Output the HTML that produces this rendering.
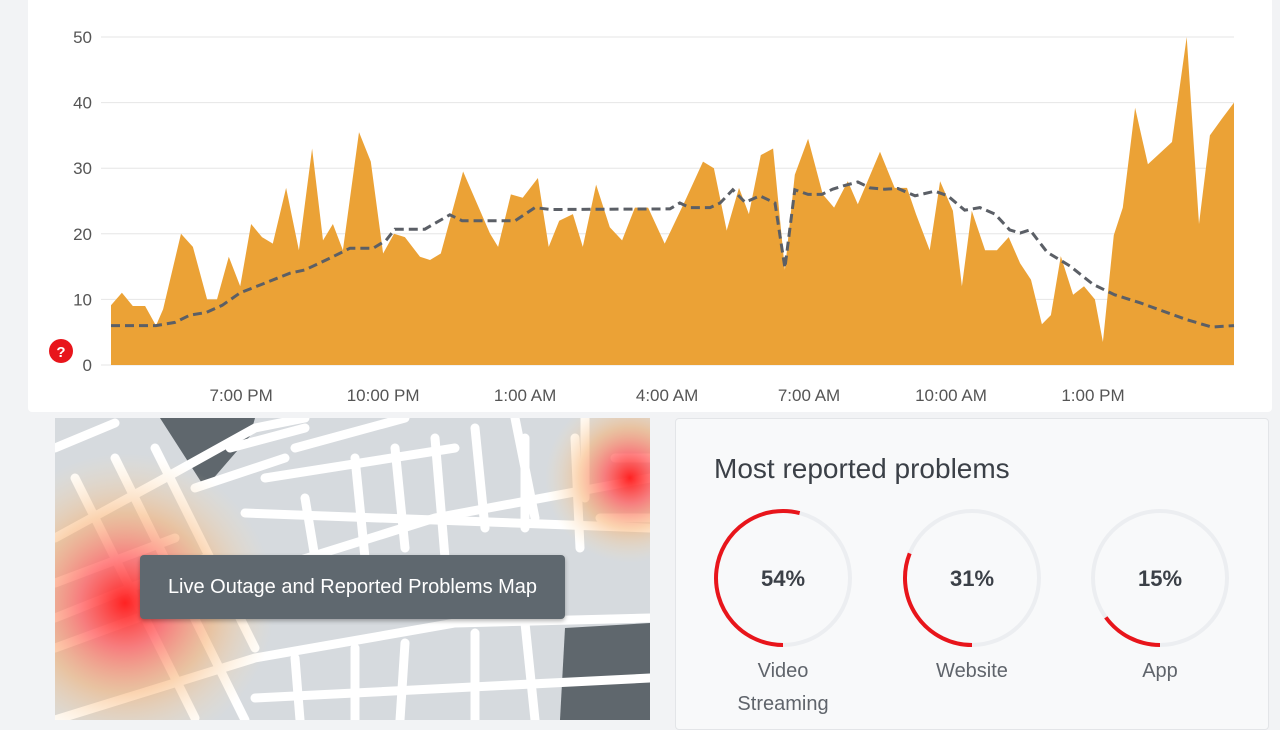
<!DOCTYPE html>
<html><head><meta charset="utf-8"><style>
body{margin:0;width:1280px;height:720px;overflow:hidden;background:#f2f3f5;font-family:"Liberation Sans",sans-serif;position:relative}
#chartcard{position:absolute;left:28px;top:-4px;width:1244px;height:416px;background:#fff;border-radius:4px}
#mapcard{position:absolute;left:55px;top:418px;width:595px;height:302px;overflow:hidden;background:#d6dade}
#probcard{position:absolute;left:675px;top:418px;width:592px;height:310px;background:#f8f9fa;border:1px solid #e3e5e8;border-radius:4px}
</style></head><body>
<div id="chartcard"></div>
<svg id="chart" style="position:absolute;left:0;top:0" width="1280" height="415"></svg>

<div id="mapcard">
<svg width="595" height="302">
<defs>
<radialGradient id="h1"><stop offset="0" stop-color="#f22" stop-opacity="1"/><stop offset="0.3" stop-color="#f66" stop-opacity=".8"/><stop offset="0.6" stop-color="#f7b070" stop-opacity=".55"/><stop offset="1" stop-color="#fbe0b0" stop-opacity="0"/></radialGradient>
</defs>
<rect width="595" height="302" fill="#d6dade"/>
<polygon points="105,0 200,0 195,18 150,70" fill="#5f676d"/>
<polygon points="510,210 595,205 595,302 505,302" fill="#5f676d"/>
<g stroke="#fff" stroke-width="9" fill="none" stroke-linecap="round">
<path d="M0,30 L60,5 M0,120 L110,60 L200,10 L250,0"/>
<path d="M20,60 L140,300 M60,40 L190,302 M100,30 L200,230"/>
<path d="M0,230 L220,150 L380,100 L595,60"/>
<path d="M0,200 L150,140 M0,165 L120,120"/>
<path d="M190,95 L595,110"/>
<path d="M140,70 L230,40 M175,30 L250,10 M240,30 L350,0 M210,60 L400,30"/>
<path d="M250,80 L260,140 M300,40 L310,140 M340,30 L350,130 M380,20 L390,140 M420,10 L430,110 M470,20 L470,110 M520,20 L525,130"/>
<path d="M460,0 L480,100"/>
<path d="M0,302 L200,240 L400,205 L595,200"/>
<path d="M240,240 L245,302 M300,230 L300,302 M350,225 L345,302 M420,215 L420,302 M470,205 L480,302"/>
<path d="M200,280 L595,260"/>
<path d="M530,0 L530,80 M560,40 L595,40 M545,100 L595,100"/>
</g>
<ellipse cx="70" cy="185" rx="150" ry="150" fill="url(#h1)"/>
<ellipse cx="575" cy="60" rx="85" ry="85" fill="url(#h1)"/>
</svg>
<div style="position:absolute;left:85px;top:137px;width:425px;height:64px;background:#5f686f;border-radius:4px;color:#fff;font-size:20px;line-height:64px;text-align:center;box-shadow:0 2px 4px rgba(0,0,0,.3)">Live Outage and Reported Problems Map</div>
</div>

<div id="probcard">
<div style="position:absolute;left:38px;top:34px;font-size:28px;color:#3b4047">Most reported problems</div>
<svg id="donuts" width="592" height="310" style="position:absolute;left:0;top:0"></svg>
</div>

<script>
const hours=[0,0.23,0.46,0.72,0.95,1.10,1.48,1.73,2.03,2.24,2.49,2.73,2.96,3.19,3.42,3.70,3.97,4.25,4.48,4.69,4.90,5.24,5.49,5.75,5.98,6.21,6.53,6.74,6.97,7.44,8.01,8.18,8.45,8.70,9.02,9.25,9.47,9.76,9.97,10.25,10.54,10.80,11.07,11.35,11.70,12.13,12.51,12.74,13.01,13.27,13.48,13.73,13.99,14.24,14.45,14.73,15.04,15.28,15.57,15.78,16.25,16.56,16.82,17.01,17.30,17.52,17.79,17.98,18.19,18.47,18.72,18.97,19.21,19.44,19.67,19.86,20.07,20.33,20.56,20.79,20.96,21.19,21.38,21.64,21.91,22.12,22.42,22.73,22.99,23.22,23.47,23.73];
const reports=[9.1,11,9,9,6,8.5,20,18,10,10,16.5,12,21.5,19.5,18.5,27,17.5,33,19,21.5,17.5,35.5,31,17,20,19.5,16.5,16,17,29.5,20,18,26,25.5,28.5,18,22,23,18,27.5,21,19,24,24,18.5,25,31,30,20.5,27,23,32,33,14.5,29,34.5,26,24,28,24.5,32.5,27,27,23,17.5,28,23.5,12,23.5,17.5,17.5,19.5,15.5,13,6.2,7.6,16.6,10.7,12,10,3.5,19.8,24,39.2,30.6,32,34,50,21.5,35,37.5,40];
const baseHours=[0,0.95,1.35,1.67,2.01,2.35,2.73,3.15,3.78,4.10,4.63,5.05,5.54,5.81,6.00,6.63,7.16,7.42,8.54,8.96,9.28,11.81,12.02,12.23,12.66,12.87,13.14,13.40,13.71,14.03,14.24,14.45,14.73,15.02,15.25,15.47,15.78,16.04,16.35,16.63,16.99,17.41,17.68,18.04,18.36,18.68,18.99,19.21,19.42,19.78,20.26,20.75,21.21,21.74,22.16,22.73,23.26,23.73];
const baseline=[6,6,6.5,7.6,8,9.1,11,12.2,14,14.5,16.3,17.8,17.8,19,20.7,20.7,22.9,22,22,24,23.7,23.8,24.7,24,24,24.7,26.7,24.8,25.8,24.7,14.8,26.7,26,26,26.8,27.3,27.9,27,26.8,26.9,25.8,26.5,25.8,23.6,24,23,20.6,20.1,20.6,17.2,15.1,12.3,10.7,9.5,8.4,6.9,5.8,6];
const yTicks=[0,10,20,30,40,50];
const xTickHours=[2.75,5.75,8.75,11.75,14.75,17.75,20.75];
const xTickLabels=["7:00 PM","10:00 PM","1:00 AM","4:00 AM","7:00 AM","10:00 AM","1:00 PM"];
const problemNames=[["Video","Streaming"],["Website"],["App"]];
const problemPct=[54,31,15];

const NS="http://www.w3.org/2000/svg";
const svg=document.getElementById('chart');
const X0=111,X1=1234,Y0=365,Y1=37;
const xS=h=>X0+(h-0)/(23.73-0)*(X1-X0);
const yS=v=>Y0-(v/50)*(Y0-Y1);
function mk(tag,attrs,parent){const e=document.createElementNS(NS,tag);for(const k in attrs)e.setAttribute(k,attrs[k]);parent.appendChild(e);return e;}
yTicks.forEach(t=>{
  const g=mk('line',{x1:X0-10,x2:X1,y1:yS(t),y2:yS(t),stroke:'#e6e6e6','stroke-width':1},svg);
  
  
  const tx=mk('text',{x:92,y:yS(t)+6,'text-anchor':'end','font-size':17,fill:'#555','font-family':'Liberation Sans'},svg);
  tx.textContent=t;
  
  
});
let d='M'+xS(hours[0])+','+yS(0);
hours.forEach((h,i)=>{d+=' L'+xS(h).toFixed(1)+','+yS(reports[i]).toFixed(1);});
d+=' L'+xS(hours[hours.length-1])+','+yS(0)+' Z';
const area=mk('path',{d:d,fill:'#eba236'},svg);


let bd='';
baseHours.forEach((h,i)=>{bd+=(i?' L':'M')+xS(h).toFixed(1)+','+yS(baseline[i]).toFixed(1);});
const bl=mk('path',{d:bd,fill:'none',stroke:'#5b5f66','stroke-width':3,'stroke-dasharray':'9,5'},svg);


xTickHours.forEach((h,i)=>{
  const tx=mk('text',{x:xS(h),y:401,'text-anchor':'middle','font-size':17,fill:'#555','font-family':'Liberation Sans'},svg);
  tx.textContent=xTickLabels[i];
  
  
});
const q=mk('circle',{cx:61,cy:351,r:12,fill:'#e8151b'},svg);


const qt=mk('text',{x:61,y:357,'text-anchor':'middle','font-size':15,'font-weight':'bold',fill:'#fff','font-family':'Liberation Sans'},svg);
qt.textContent='?';



const ds=document.getElementById('donuts');
const cxs=[107,296,484];
problemPct.forEach((p,i)=>{
  const cx=cxs[i],cy=159,r=67;
  const tr=mk('circle',{cx:cx,cy:cy,r:r,fill:'none',stroke:'#eceef1','stroke-width':4},ds);
  
  
  const a=p/100*2*Math.PI;
  const ex=cx-r*Math.sin(a),ey=cy+r*Math.cos(a);
  const arc=mk('path',{d:`M${cx},${cy+r} A${r},${r} 0 ${p>50?1:0} 1 ${ex.toFixed(2)},${ey.toFixed(2)}`,fill:'none',stroke:'#e8151b','stroke-width':4},ds);
  
  
  const t=mk('text',{x:cx,y:cy+8,'text-anchor':'middle','font-size':22,'font-weight':'bold',fill:'#3b4047','font-family':'Liberation Sans'},ds);
  t.textContent=p+'%';
  
  
  problemNames[i].forEach((ln,j)=>{
    const l=mk('text',{x:cx,y:258+j*33,'text-anchor':'middle','font-size':20,fill:'#5f646b','font-family':'Liberation Sans'},ds);
    l.textContent=ln;
    
    
  });
});
</script>
</body></html>
